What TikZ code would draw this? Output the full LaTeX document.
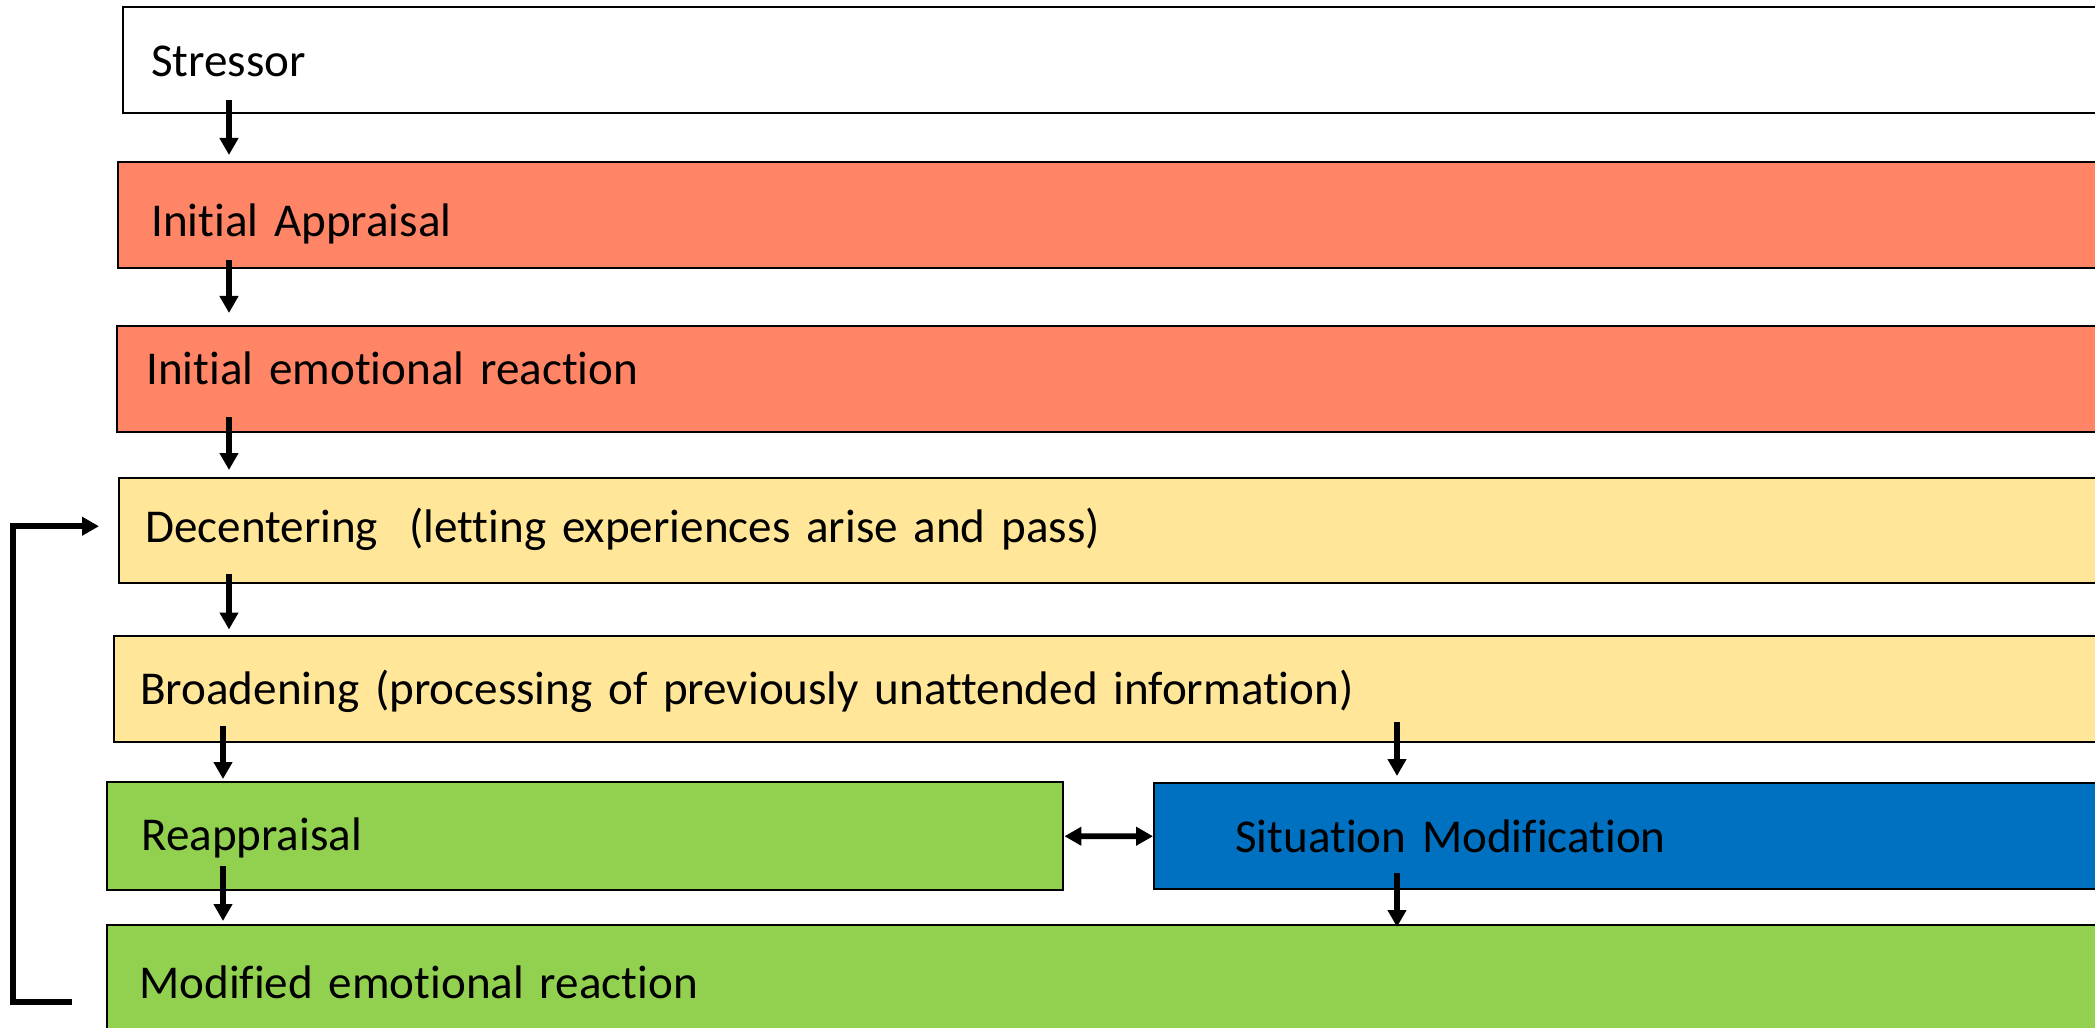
\documentclass[tikz,border=0pt]{standalone}
\usepackage{fontspec}
\setmainfont{Carlito}[Ligatures=NoCommon]
\usetikzlibrary{arrows.meta}
\definecolor{salmon}{HTML}{FF8566}
\definecolor{paleyellow}{HTML}{FFE699}
\definecolor{leafgreen}{HTML}{92D050}
\definecolor{stepblue}{HTML}{0070C0}
\tikzset{stage/.style={draw, line width=0.7pt, anchor=north west, align=left, inner ysep=0pt, text depth=0pt, font=\fontsize{13.4}{16}\selectfont},
arr/.style={line width=1.6pt, -{Triangle[width=0.18cm,length=0.17cm]}},
dblarr/.style={line width=1.6pt, {Triangle[width=0.18cm,length=0.17cm]}-{Triangle[width=0.18cm,length=0.17cm]}}}

\begin{document}
\begin{tikzpicture}
\useasboundingbox (0,0) rectangle (20.95,-10.28);
\clip (0,0) rectangle (20.95,-10.28);

\node[stage, fill=white, minimum height=1.06cm, inner xsep=0.28cm, text width=19.72cm, text height=0.32cm] (stressor) at (1.22,-0.06) {Stressor};
\node[stage, fill=salmon, minimum height=1.06cm, inner xsep=0.33cm, text width=19.67cm, text height=0.42cm] (appraisal) at (1.17,-1.61) {Initial Appraisal};
\node[stage, fill=salmon, minimum height=1.06cm, inner xsep=0.29cm, text width=19.76cm, text height=0.10cm] (emotion) at (1.16,-3.25) {Initial emotional reaction};
\node[stage, fill=paleyellow, minimum height=1.05cm, inner xsep=0.26cm, text width=19.80cm, text height=0.23cm] (decenter) at (1.18,-4.77) {Decentering\ \ (letting experiences arise and pass)};
\node[stage, fill=paleyellow, minimum height=1.06cm, inner xsep=0.26cm, text width=19.85cm, text height=0.30cm] (broaden) at (1.13,-6.35) {Broadening (processing of previously unattended information)};
\node[stage, fill=leafgreen, minimum height=1.08cm, inner xsep=0.34cm, text width=8.88cm, text height=0.28cm] (reapp) at (1.06,-7.81) {Reappraisal};
\node[stage, fill=stepblue, minimum height=1.06cm, inner xsep=0.81cm, text width=8.35cm, text height=0.32cm] (situation) at (11.53,-7.82) {Situation Modification};
\node[stage, fill=leafgreen, minimum height=1.16cm, inner xsep=0.32cm, text width=19.80cm, text height=0.30cm] (modified) at (1.06,-9.24) {Modified emotional reaction};

\coordinate (colA) at (2.29,0);
\coordinate (colB) at (2.23,0);
\coordinate (colC) at (13.97,0);
\draw[arr] ([yshift=0.14cm]stressor.south -| colA) -- ([yshift=0.06cm]appraisal.north -| colA);
\draw[arr] ([yshift=0.09cm]appraisal.south -| colA) -- ([yshift=0.12cm]emotion.north -| colA);
\draw[arr] ([yshift=0.16cm]emotion.south -| colA) -- ([yshift=0.07cm]decenter.north -| colA);
\draw[arr] ([yshift=0.10cm]decenter.south -| colA) -- ([yshift=0.055cm]broaden.north -| colA);
\draw[arr] ([yshift=0.175cm]broaden.south -| colB) -- ([yshift=0.02cm]reapp.north -| colB);
\draw[arr] ([yshift=0.25cm]reapp.south -| colB) -- ([yshift=0.03cm]modified.north -| colB);
\draw[arr] ([yshift=0.21cm]broaden.south -| colC) -- ([yshift=0.06cm]situation.north -| colC);
\draw[arr] ([yshift=0.17cm]situation.south -| colC) -- ([yshift=-0.03cm]modified.north -| colC);
\draw[dblarr] (reapp.east) -- (situation.west);

\coordinate (loopend) at (0.72,-10.02);
\draw[arr] (loopend) -- ++(-0.59,0) |- ([xshift=-0.19cm,yshift=0.045cm]decenter.west);

\end{tikzpicture}
\end{document}
